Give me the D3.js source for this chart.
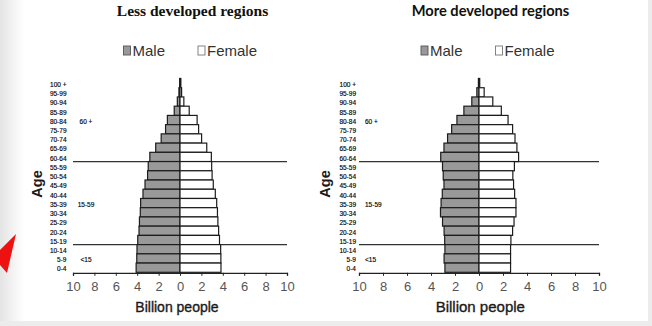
<!DOCTYPE html>
<html>
<head>
<meta charset="utf-8">
<script src="https://cdn.jsdelivr.net/npm/d3@7/dist/d3.min.js"></script>
<style>
  html, body { margin: 0; padding: 0; background: #ececec; }
  svg { display: block; }
</style>
</head>
<body>
<svg id="chart" width="652" height="326"></svg>
<script>
// Five-year age groups, oldest at the top
const ageGroups = ["100 +","95-99","90-94","85-89","80-84","75-79","70-74","65-69","60-64",
  "55-59","50-54","45-49","40-44","35-39","30-34","25-29","20-24","15-19","10-14","5-9","0-4"];

// Population by age group, billion people
const lessMale   = [0.03,0.10,0.25,0.54,1.18,1.35,1.76,2.27,2.82,2.97,3.03,3.27,3.46,3.68,3.71,3.79,3.83,3.95,4.02,4.04,4.10];
const lessFemale = [0.08,0.15,0.36,0.86,1.60,1.74,2.02,2.50,2.93,2.96,3.00,3.11,3.30,3.43,3.50,3.54,3.61,3.69,3.80,3.82,3.83];
const moreMale   = [0.05,0.18,0.60,1.26,1.84,2.28,2.62,2.92,3.19,3.04,2.98,2.92,3.06,3.16,3.21,3.04,2.91,2.86,2.84,2.91,2.84];
const moreFemale = [0.06,0.43,1.15,1.86,2.42,2.80,3.00,3.16,3.30,2.95,2.82,2.88,2.97,3.08,3.08,2.92,2.80,2.66,2.63,2.63,2.63];

const xTicks = [-10,-8,-6,-4,-2,0,2,4,6,8,10];
const seriesNames = ["Male","Female"];
const broadGroups = ["60 +","15-59","<15"];
const broadGroupRows = ["80-84","35-39","5-9"];
const boundaryRows = ["60-64","15-19"];   // lines drawn under these rows

const svg = d3.select("#chart");

// slide backdrop
const defs = svg.append("defs");
const grad = defs.append("linearGradient").attr("id","edge").attr("x1",0).attr("x2",1);
grad.append("stop").attr("offset","0%").attr("stop-color","#e4e4e4");
grad.append("stop").attr("offset","100%").attr("stop-color","#ffffff");
svg.append("rect").attr("width",652).attr("height",326).attr("fill","#ececec");
svg.append("rect").attr("x",0).attr("y",0).attr("width",24).attr("height",321).attr("fill","url(#edge)");
svg.append("rect").attr("x",24).attr("y",0).attr("width",624).attr("height",321).attr("fill","#ffffff");
svg.append("polygon").attr("points","0,250 16,234 7,273 0,265").attr("fill","#ee1111");

const MALE_FILL = "#999999";
const BAR_STROKE = "#1c1c1c";

function fitText(sel, width) {
  const len = sel.node().getComputedTextLength();
  const fs = parseFloat(sel.attr("font-size"));
  sel.attr("font-size", (fs * width / len).toFixed(2));
}

function drawPyramid(cfg) {
  const g = svg.append("g");
  const x = d3.scaleLinear().domain([-10, 10]).range(cfg.xRange);
  const y = d3.scaleBand().domain(ageGroups).range([78.5, 272.3]).padding(0);
  const x0 = x(0);

  // title
  const t = g.append("text")
    .attr("x", cfg.titleX).attr("y", 15.5)
    .attr("text-anchor", "middle")
    .attr("font-family", cfg.titleFont)
    .attr("font-weight", "bold")
    .attr("font-size", 16)
    .attr("fill", "#111")
    .text(cfg.title);
  fitText(t, cfg.titleWidth);

  // legend
  const leg = g.append("g");
  seriesNames.forEach((name, i) => {
    const lx = cfg.legendX[i];
    leg.append("rect")
      .attr("x", lx).attr("y", 46).attr("width", 7).attr("height", 9)
      .attr("fill", i === 0 ? MALE_FILL : "#fff")
      .attr("stroke", i === 0 ? "#555" : "#777").attr("stroke-width", 0.9);
    leg.append("text")
      .attr("x", lx + 9).attr("y", 56)
      .attr("font-family", "Liberation Sans, Arial, sans-serif")
      .attr("font-size", 15)
      .attr("fill", "#333")
      .text(name);
  });

  // broad age group separators
  g.selectAll("line.sep").data(boundaryRows).join("line")
    .attr("class", "sep")
    .attr("x1", x(-10)).attr("x2", x(10))
    .attr("y1", d => y(d) + y.bandwidth()).attr("y2", d => y(d) + y.bandwidth())
    .attr("stroke", "#333").attr("stroke-width", 1.3);

  // bars
  g.selectAll("rect.male").data(ageGroups).join("rect")
    .attr("class", "male")
    .attr("x", (d, i) => x(-cfg.male[i]))
    .attr("y", d => y(d))
    .attr("width", (d, i) => x0 - x(-cfg.male[i]))
    .attr("height", y.bandwidth())
    .attr("fill", MALE_FILL).attr("stroke", BAR_STROKE).attr("stroke-width", 1.2);
  g.selectAll("rect.female").data(ageGroups).join("rect")
    .attr("class", "female")
    .attr("x", x0)
    .attr("y", d => y(d))
    .attr("width", (d, i) => x(cfg.female[i]) - x0)
    .attr("height", y.bandwidth())
    .attr("fill", "#fff").attr("stroke", BAR_STROKE).attr("stroke-width", 1.2);

  // age group labels
  g.selectAll("text.age").data(ageGroups).join("text")
    .attr("class", "age")
    .attr("x", cfg.ageLabelX)
    .attr("y", d => y(d) + y.bandwidth() / 2 + 1.5)
    .attr("dy", "0.35em")
    .attr("text-anchor", "end")
    .attr("font-family", "Liberation Sans, Arial, sans-serif")
    .attr("font-size", 6.5)
    .attr("fill", "#000").attr("stroke", "#000").attr("stroke-width", 0.15)
    .text(d => d);

  // broad group labels
  g.selectAll("text.broad").data(broadGroups).join("text")
    .attr("class", "broad")
    .attr("x", cfg.broadX)
    .attr("y", (d, i) => y(broadGroupRows[i]) + y.bandwidth() / 2 + 1.5)
    .attr("dy", "0.35em")
    .attr("text-anchor", cfg.broadAnchor)
    .attr("font-family", "Liberation Sans, Arial, sans-serif")
    .attr("font-size", 6.5)
    .attr("fill", "#000").attr("stroke", "#000").attr("stroke-width", 0.15)
    .text(d => d);

  // x axis
  const axis = d3.axisBottom(x).tickValues(xTicks)
    .tickFormat(d => Math.abs(d)).tickSize(3).tickSizeOuter(3).tickPadding(6);
  const ax = g.append("g").attr("transform", `translate(0,${272.8})`).call(axis);
  ax.select(".domain").attr("stroke", "#222").attr("stroke-width", 1.3);
  ax.selectAll(".tick line").attr("stroke", "#222");
  ax.selectAll(".tick text")
    .attr("font-family", "Liberation Sans Narrow, Arial Narrow, Liberation Sans, sans-serif")
    .attr("font-size", 13).attr("fill", "#555");

  // axis titles
  g.append("text")
    .attr("x", cfg.xTitleX).attr("y", 311.5)
    .attr("text-anchor", "middle")
    .attr("font-family", "Liberation Sans, Arial, sans-serif")
    .attr("font-size", cfg.xTitleSize).attr("fill", "#1a1a1a")
    .attr("stroke", "#1a1a1a").attr("stroke-width", 0.35)
    .text("Billion people");
  g.append("text")
    .attr("transform", `translate(${cfg.yTitleX},184) rotate(-90)`)
    .attr("text-anchor", "middle")
    .attr("font-family", "Liberation Sans, Arial, sans-serif")
    .attr("font-weight", "bold")
    .attr("font-size", 14.5).attr("fill", "#1a1a1a")
    .text("Age");
}

drawPyramid({
  title: "Less developed regions", titleX: 192.5, titleWidth: 151.6,
  titleFont: "Liberation Serif, Times New Roman, serif",
  legendX: [123.5, 198], xRange: [73, 287],
  male: lessMale, female: lessFemale,
  ageLabelX: 66.5, broadX: 86, broadAnchor: "middle",
  xTitleX: 177, xTitleSize: 14, yTitleX: 41.5
});
drawPyramid({
  title: "More developed regions", titleX: 490.5, titleWidth: 157.7,
  titleFont: "Lato, Open Sans, sans-serif",
  legendX: [421, 495.5], xRange: [359, 599],
  male: moreMale, female: moreFemale,
  ageLabelX: 356, broadX: 365, broadAnchor: "start",
  xTitleX: 480.3, xTitleSize: 15, yTitleX: 329.5
});
</script>
</body>
</html>
